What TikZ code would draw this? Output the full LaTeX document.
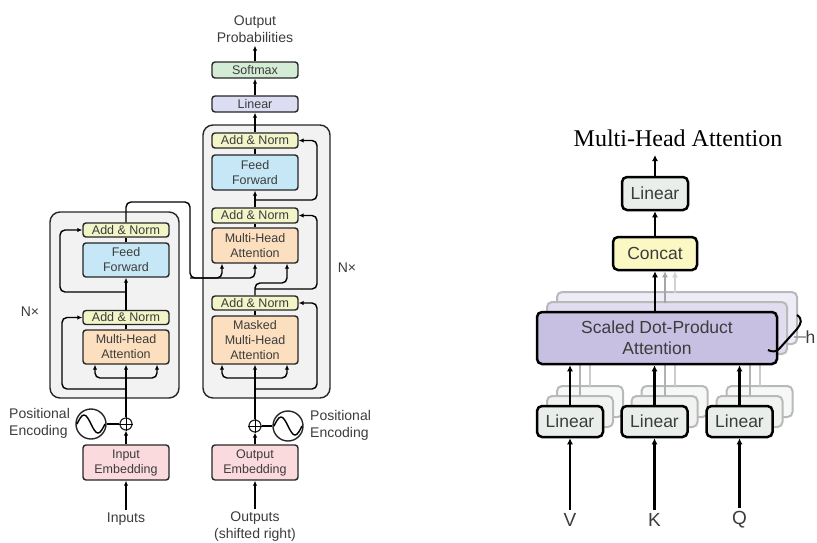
\documentclass[tikz,border=0pt]{standalone}
\usepackage{fontspec}
\setmainfont{Liberation Sans}
\newfontfamily\titlefont{Liberation Serif}
\usetikzlibrary{arrows.meta,positioning,calc}
\definecolor{txt}{RGB}{60,60,60}
\definecolor{addnorm}{RGB}{242,245,200}
\definecolor{feedfwd}{RGB}{198,232,246}
\definecolor{attn}{RGB}{252,223,190}
\definecolor{embed}{RGB}{251,218,222}
\definecolor{softm}{RGB}{212,236,214}
\definecolor{linr}{RGB}{220,221,242}
\definecolor{stackbg}{RGB}{242,242,242}
\definecolor{linbox}{RGB}{233,238,234}
\definecolor{concatc}{RGB}{252,248,196}
\definecolor{sdpac}{RGB}{200,192,227}

\begin{document}
\begin{tikzpicture}[x=1pt, y=-1pt,
  every node/.style={text=txt},
  blk/.style={draw=black!85, line width=1.4pt, rounded corners=3pt, minimum width=86pt,
    inner sep=0pt, align=center, font=\fontsize{12.5}{15}\selectfont},
  lbl/.style={align=center, inner sep=3pt, font=\fontsize{14}{17}\selectfont},
  ln/.style={line width=1.4pt, rounded corners=5pt},
  arr/.style={ln, -{Latex[length=5pt,width=4.5pt]}},
  sine/.style={draw=black!85, line width=1.4pt, circle, minimum size=30pt, inner sep=0pt},
  plus/.style={draw=black!85, line width=1.2pt, circle, minimum size=12pt, inner sep=0pt},
  stack/.style={draw=black!85, fill=stackbg, line width=1.4pt, rounded corners=10pt},
  rblk/.style={draw=black, line width=2.5pt, rounded corners=5pt, inner sep=0pt,
    align=center, font=\fontsize{17.5}{21}\selectfont},
  ghost/.style={draw=gray!55, line width=2pt, rounded corners=5pt},
  rarr/.style={line width=2.5pt, -{Latex[length=6pt,width=6pt]}}]
\useasboundingbox (0,0) rectangle (817,542);

% ---- encoder stack
\draw[stack] (50,212) rectangle (179,398);
\node[blk, fill=addnorm, minimum height=14pt] (encAN2) at (126,230) {Add \& Norm};
\node[blk, fill=feedfwd, minimum height=34pt] (encFF) at (126,260) {Feed\\Forward};
\node[blk, fill=addnorm, minimum height=14pt] (encAN1) at (126,317.5) {Add \& Norm};
\node[blk, fill=attn, minimum height=34pt] (encMHA) at (126,347) {Multi-Head\\Attention};
\node[blk, fill=embed, minimum height=35pt] (encEmb) at (126,462.5) {Input\\Embedding};
\node[plus] (encPlus) at (126,424) {};
\node[sine] (encPE) at (91,424) {};
\node[lbl, anchor=west, align=left] (encPEtxt) at (6,423) {Positional\\Encoding};
\node[lbl] (inputs) at (126,519) {Inputs};
\node[lbl] (encN) at (30,312) {N×};

\draw (encPlus.north) -- (encPlus.south) (encPlus.west) -- (encPlus.east);
\draw[line width=1.4pt] ([xshift=-14pt]encPE.center) sin ++(7,-9) cos ++(7,9) sin ++(7,9) cos ++(7,-9);
\draw[arr] (inputs) -- (encEmb);
\draw[arr] (encEmb) -- (encPlus);
\draw[ln] (encPE) -- (encPlus);
\draw[arr] (encPlus) -- (encMHA);
\coordinate (encSplit) at (126,378);
\draw[arr] (encSplit) -| ([xshift=-31pt]encMHA.south);
\draw[arr] (encSplit) -| ([xshift=31pt]encMHA.south);
\coordinate (encRes1) at (126,389);
\draw[arr] (encRes1) -- ++(-64,0) |- (encAN1.west);
\draw[ln] (encMHA) -- (encAN1);
\draw[arr] (encAN1) -- (encFF);
\coordinate (encRes2) at (126,292);
\draw[arr] (encRes2) -- ++(-66,0) |- (encAN2.west);
\draw[ln] (encFF) -- (encAN2);

% ---- decoder stack
\draw[stack] (203,125) rectangle (330,398);
\node[blk, fill=addnorm, minimum height=15pt] (decAN3) at (255,140.5) {Add \& Norm};
\node[blk, fill=feedfwd, minimum height=35pt] (decFF) at (255,172.5) {Feed\\Forward};
\node[blk, fill=addnorm, minimum height=15pt] (decAN2) at (255,215.5) {Add \& Norm};
\node[blk, fill=attn, minimum height=35pt] (decMHA) at (255,245.5) {Multi-Head\\Attention};
\node[blk, fill=addnorm, minimum height=14pt] (decAN1) at (255,303) {Add \& Norm};
\node[blk, fill=attn, minimum height=48pt] (decMMHA) at (255,340) {Masked\\Multi-Head\\Attention};
\node[blk, fill=linr, minimum height=16pt] (linear) at (255,104) {Linear};
\node[blk, fill=softm, minimum height=16pt] (softmax) at (255,70) {Softmax};
\node[lbl] (outprob) at (255,29) {Output\\Probabilities};
\node[blk, fill=embed, minimum height=35pt] (decEmb) at (255,462.5) {Output\\Embedding};
\node[plus] (decPlus) at (255,426) {};
\node[sine] (decPE) at (288,426) {};
\node[lbl, anchor=west, align=left] (decPEtxt) at (307,425) {Positional\\Encoding};
\node[lbl] (outputs) at (255,527) {Outputs\\(shifted right)};
\node[lbl] (decN) at (347,268) {N×};

\draw (decPlus.north) -- (decPlus.south) (decPlus.west) -- (decPlus.east);
\draw[line width=1.4pt] ([xshift=-14pt]decPE.center) sin ++(7,-9) cos ++(7,9) sin ++(7,9) cos ++(7,-9);
\draw[arr] (outputs) -- (decEmb);
\draw[arr] (decEmb) -- (decPlus);
\draw[ln] (decPE) -- (decPlus);
\draw[arr] (decPlus) -- (decMMHA);
\coordinate (decSplit) at (255,378);
\draw[arr] (decSplit) -| ([xshift=-33pt]decMMHA.south);
\draw[arr] (decSplit) -| ([xshift=32pt]decMMHA.south);
\coordinate (decRes1) at (255,389);
\draw[arr] (decRes1) -- ++(62,0) |- (decAN1.east);
\draw[ln] (decMMHA) -- (decAN1);
\coordinate (decQturn) at (287,283);
\draw[arr] (decAN1.north) |- (decQturn) -- ([xshift=32pt]decMHA.south);
\coordinate (decRes2) at (255,289);
\draw[arr] (decRes2) -- ++(62,0) |- (decAN2.east);
\draw[ln] (decMHA) -- (decAN2);
\draw[arr] (decAN2) -- (decFF);
\coordinate (decRes3) at (255,200);
\draw[arr] (decRes3) -- ++(62,0) |- (decAN3.east);
\draw[ln] (decFF) -- (decAN3);
\draw[arr] (decAN3) -- (linear);
\draw[arr] (linear) -- (softmax);
\draw[arr] (softmax) -- (outprob);

% ---- encoder output into decoder attention
\coordinate (memTurn) at (190,202);
\coordinate (memLow) at (190,278);
\draw[arr] (encAN2.north) |- (memTurn) -- (memLow) -| ([xshift=-33pt]decMHA.south);
\draw[arr] (memLow) -| (decMHA.south);

% ---- multi-head attention detail
\node[font=\titlefont\fontsize{24}{28}\selectfont, text=black] (mhaTitle) at (678,138) {Multi-Head Attention};
\node[rblk, fill=linbox, minimum width=66pt, minimum height=33pt] (mhaLin) at (655,193.5) {Linear};
\node[rblk, fill=concatc, minimum width=84pt, minimum height=33pt] (concat) at (655,253.5) {Concat};
\coordinate (mhaOut) at (655,155);
\draw[rarr] (mhaLin) -- (mhaOut);
\draw[rarr] (concat) -- (mhaLin);
% stacked heads behind
\draw[ghost, fill=sdpac!30] (557,292) rectangle (797,344);
\draw[ghost, fill=sdpac!55] (547,302) rectangle (787,354);
\draw[rarr, gray!35] ($(concat.south)+(20,22)$) -- ($(concat.south)+(20,0)$);
\draw[rarr, gray!70] ($(concat.south)+(10,32)$) -- ($(concat.south)+(10,0)$);
\foreach \cx in {570,654.5,739.5} {
  \draw[ghost, fill=linbox!40] (\cx-13,386) rectangle (\cx+53,417);
  \draw[ghost, fill=linbox!70] (\cx-23,396) rectangle (\cx+43,427);
  \draw[gray!40, line width=2pt] (\cx+20,386) -- (\cx+20,354);
  \draw[gray!60, line width=2pt] (\cx+10,396) -- (\cx+10,364);
}
\node[rblk, fill=sdpac, minimum width=240pt, minimum height=52pt] (sdpa) at (657,338) {Scaled Dot-Product\\Attention};
\draw[rarr] (sdpa.north -| concat) -- (concat.south);
\node[rblk, fill=linbox, minimum width=66pt, minimum height=31pt] (linV) at (570,421.5) {Linear};
\node[rblk, fill=linbox, minimum width=66pt, minimum height=31pt] (linK) at (654.5,421.5) {Linear};
\node[rblk, fill=linbox, minimum width=66pt, minimum height=31pt] (linQ) at (739.5,421.5) {Linear};
\node[font=\fontsize{19}{22}\selectfont] (inV) at (570,520) {V};
\node[font=\fontsize{19}{22}\selectfont] (inK) at (654.5,520) {K};
\node[font=\fontsize{19}{22}\selectfont] (inQ) at (739.5,520) {Q};
\draw[rarr] (inV) -- (linV);
\draw[rarr] (inK) -- (linK);
\draw[rarr] (inQ) -- (linQ);
\draw[rarr] (linV) -- (linV |- sdpa.south);
\draw[rarr] (linK) -- (linK |- sdpa.south);
\draw[rarr] (linQ) -- (linQ |- sdpa.south);
% number of heads
\node[font=\fontsize{17.5}{21}\selectfont, anchor=west, inner sep=0pt] (hLabel) at (805.5,337) {h};
\draw[gray!70, line width=1.5pt] (hLabel.west) -- ++(-12,0);
\draw[line width=2pt] (797,315) .. controls (803,319) and (801,324) .. (797,329) -- (779,349)
  .. controls (776,352) and (772,352) .. (768,350);
\end{tikzpicture}
\end{document}
